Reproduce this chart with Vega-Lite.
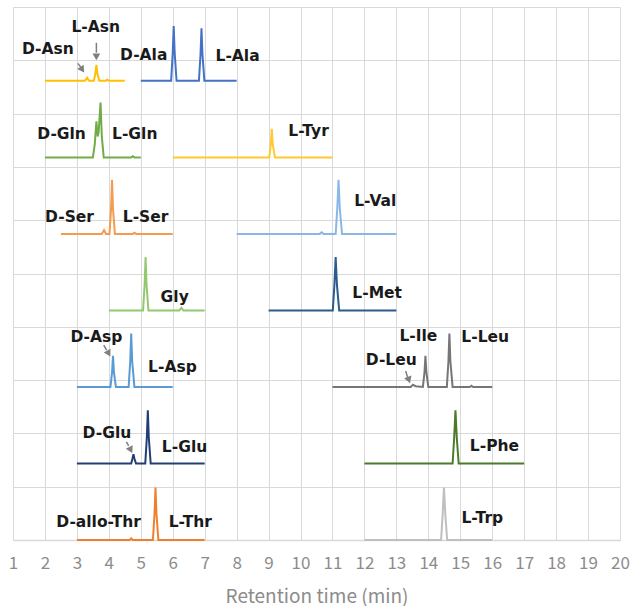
{
  "$schema": "https://vega.github.io/schema/vega-lite/v6.json",
  "width": 607,
  "height": 533,
  "autosize": {"type": "none"},
  "padding": {"left": 13, "top": 7, "right": 11, "bottom": 66},
  "background": "white",
  "config": {"view": {"stroke": null}},
  "datasets": {
    "traces": [
      {"s":"Asn","x":2.0,"y":6.03},{"s":"Asn","x":3.25,"y":6.03},{"s":"Asn","x":3.32,"y":6.07},{"s":"Asn","x":3.38,"y":6.03},{"s":"Asn","x":3.53,"y":6.03},{"s":"Asn","x":3.58,"y":6.13},{"s":"Asn","x":3.61,"y":6.24},{"s":"Asn","x":3.64,"y":6.13},{"s":"Asn","x":3.7,"y":6.03},{"s":"Asn","x":3.9,"y":6.03},{"s":"Asn","x":3.95,"y":6.045},{"s":"Asn","x":4.0,"y":6.03},{"s":"Asn","x":4.5,"y":6.03},
      {"s":"Ala","x":5.0,"y":6.03},{"s":"Ala","x":5.95,"y":6.03},{"s":"Ala","x":6.0,"y":6.4},{"s":"Ala","x":6.03,"y":6.75},{"s":"Ala","x":6.06,"y":6.4},{"s":"Ala","x":6.12,"y":6.03},{"s":"Ala","x":6.82,"y":6.03},{"s":"Ala","x":6.87,"y":6.38},{"s":"Ala","x":6.9,"y":6.72},{"s":"Ala","x":6.93,"y":6.38},{"s":"Ala","x":6.99,"y":6.03},{"s":"Ala","x":8.0,"y":6.03},
      {"s":"Gln","x":2.0,"y":5.025},{"s":"Gln","x":3.5,"y":5.025},{"s":"Gln","x":3.56,"y":5.2},{"s":"Gln","x":3.61,"y":5.5},{"s":"Gln","x":3.65,"y":5.3},{"s":"Gln","x":3.68,"y":5.35},{"s":"Gln","x":3.74,"y":5.745},{"s":"Gln","x":3.78,"y":5.3},{"s":"Gln","x":3.84,"y":5.025},{"s":"Gln","x":4.7,"y":5.025},{"s":"Gln","x":4.75,"y":5.04},{"s":"Gln","x":4.8,"y":5.025},{"s":"Gln","x":5.0,"y":5.025},
      {"s":"Tyr","x":6.0,"y":5.025},{"s":"Tyr","x":9.02,"y":5.025},{"s":"Tyr","x":9.07,"y":5.2},{"s":"Tyr","x":9.1,"y":5.4},{"s":"Tyr","x":9.13,"y":5.2},{"s":"Tyr","x":9.2,"y":5.025},{"s":"Tyr","x":11.0,"y":5.025},
      {"s":"Ser","x":2.5,"y":4.02},{"s":"Ser","x":3.78,"y":4.02},{"s":"Ser","x":3.85,"y":4.07},{"s":"Ser","x":3.91,"y":4.02},{"s":"Ser","x":4.02,"y":4.02},{"s":"Ser","x":4.07,"y":4.35},{"s":"Ser","x":4.1,"y":4.73},{"s":"Ser","x":4.13,"y":4.35},{"s":"Ser","x":4.19,"y":4.02},{"s":"Ser","x":4.75,"y":4.02},{"s":"Ser","x":4.8,"y":4.035},{"s":"Ser","x":4.85,"y":4.02},{"s":"Ser","x":6.0,"y":4.02},
      {"s":"Val","x":8.0,"y":4.02},{"s":"Val","x":10.6,"y":4.02},{"s":"Val","x":10.66,"y":4.04},{"s":"Val","x":10.72,"y":4.02},{"s":"Val","x":11.1,"y":4.02},{"s":"Val","x":11.15,"y":4.35},{"s":"Val","x":11.19,"y":4.73},{"s":"Val","x":11.23,"y":4.35},{"s":"Val","x":11.3,"y":4.02},{"s":"Val","x":13.0,"y":4.02},
      {"s":"Gly","x":4.0,"y":3.015},{"s":"Gly","x":5.07,"y":3.015},{"s":"Gly","x":5.12,"y":3.35},{"s":"Gly","x":5.15,"y":3.715},{"s":"Gly","x":5.18,"y":3.35},{"s":"Gly","x":5.24,"y":3.015},{"s":"Gly","x":6.2,"y":3.015},{"s":"Gly","x":6.27,"y":3.05},{"s":"Gly","x":6.33,"y":3.015},{"s":"Gly","x":7.0,"y":3.015},
      {"s":"Met","x":9.0,"y":3.015},{"s":"Met","x":11.01,"y":3.015},{"s":"Met","x":11.06,"y":3.35},{"s":"Met","x":11.1,"y":3.715},{"s":"Met","x":11.14,"y":3.35},{"s":"Met","x":11.21,"y":3.015},{"s":"Met","x":13.0,"y":3.015},
      {"s":"Asp","x":3.0,"y":2.01},{"s":"Asp","x":4.05,"y":2.01},{"s":"Asp","x":4.1,"y":2.2},{"s":"Asp","x":4.13,"y":2.42},{"s":"Asp","x":4.16,"y":2.2},{"s":"Asp","x":4.22,"y":2.01},{"s":"Asp","x":4.62,"y":2.01},{"s":"Asp","x":4.67,"y":2.35},{"s":"Asp","x":4.7,"y":2.71},{"s":"Asp","x":4.73,"y":2.35},{"s":"Asp","x":4.8,"y":2.01},{"s":"Asp","x":6.0,"y":2.01},
      {"s":"Leu","x":11.0,"y":2.01},{"s":"Leu","x":13.45,"y":2.01},{"s":"Leu","x":13.52,"y":2.04},{"s":"Leu","x":13.6,"y":2.02},{"s":"Leu","x":13.83,"y":2.01},{"s":"Leu","x":13.88,"y":2.2},{"s":"Leu","x":13.91,"y":2.42},{"s":"Leu","x":13.94,"y":2.2},{"s":"Leu","x":14.0,"y":2.01},{"s":"Leu","x":14.58,"y":2.01},{"s":"Leu","x":14.63,"y":2.35},{"s":"Leu","x":14.66,"y":2.71},{"s":"Leu","x":14.69,"y":2.35},{"s":"Leu","x":14.76,"y":2.01},{"s":"Leu","x":15.3,"y":2.01},{"s":"Leu","x":15.35,"y":2.025},{"s":"Leu","x":15.4,"y":2.01},{"s":"Leu","x":16.0,"y":2.01},
      {"s":"Glu","x":3.0,"y":1.005},{"s":"Glu","x":4.7,"y":1.005},{"s":"Glu","x":4.74,"y":1.07},{"s":"Glu","x":4.77,"y":1.125},{"s":"Glu","x":4.8,"y":1.07},{"s":"Glu","x":4.85,"y":1.005},{"s":"Glu","x":5.14,"y":1.005},{"s":"Glu","x":5.19,"y":1.35},{"s":"Glu","x":5.22,"y":1.705},{"s":"Glu","x":5.25,"y":1.35},{"s":"Glu","x":5.31,"y":1.005},{"s":"Glu","x":7.0,"y":1.005},
      {"s":"Phe","x":12.0,"y":1.005},{"s":"Phe","x":14.76,"y":1.005},{"s":"Phe","x":14.81,"y":1.35},{"s":"Phe","x":14.85,"y":1.705},{"s":"Phe","x":14.89,"y":1.35},{"s":"Phe","x":14.95,"y":1.005},{"s":"Phe","x":17.0,"y":1.005},
      {"s":"Thr","x":3.0,"y":0},{"s":"Thr","x":4.65,"y":0},{"s":"Thr","x":4.7,"y":0.02},{"s":"Thr","x":4.75,"y":0},{"s":"Thr","x":5.38,"y":0},{"s":"Thr","x":5.43,"y":0.35},{"s":"Thr","x":5.46,"y":0.69},{"s":"Thr","x":5.49,"y":0.35},{"s":"Thr","x":5.55,"y":0},{"s":"Thr","x":7.0,"y":0},
      {"s":"Trp","x":12.0,"y":0},{"s":"Trp","x":14.4,"y":0},{"s":"Trp","x":14.45,"y":0.35},{"s":"Trp","x":14.49,"y":0.69},{"s":"Trp","x":14.53,"y":0.35},{"s":"Trp","x":14.59,"y":0},{"s":"Trp","x":16.0,"y":0}
    ],
    "labels": [
      {"t":"D-Asn","x":2.09,"y":6.45},{"t":"L-Asn","x":3.59,"y":6.74},{"t":"D-Ala","x":5.09,"y":6.37},{"t":"L-Ala","x":8.03,"y":6.36},
      {"t":"D-Gln","x":2.52,"y":5.33},{"t":"L-Gln","x":4.81,"y":5.33},{"t":"L-Tyr","x":10.25,"y":5.37},
      {"t":"D-Ser","x":2.77,"y":4.24},{"t":"L-Ser","x":5.15,"y":4.24},{"t":"L-Val","x":12.34,"y":4.45},
      {"t":"Gly","x":6.06,"y":3.19},{"t":"L-Met","x":12.4,"y":3.24},
      {"t":"D-Asp","x":3.61,"y":2.66},{"t":"L-Asp","x":5.99,"y":2.27},{"t":"L-Ile","x":13.69,"y":2.68},{"t":"D-Leu","x":12.84,"y":2.36},{"t":"L-Leu","x":15.78,"y":2.66},
      {"t":"D-Glu","x":3.94,"y":1.41},{"t":"L-Glu","x":6.37,"y":1.225},{"t":"L-Phe","x":16.07,"y":1.23},
      {"t":"D-allo-Thr","x":3.68,"y":0.23},{"t":"L-Thr","x":6.55,"y":0.23},{"t":"L-Trp","x":15.69,"y":0.285}
    ],
    "arrows": [
      {"x":3.61,"y":6.53,"x2":3.61,"y2":6.4},
      {"x":3.03,"y":6.26,"x2":3.12,"y2":6.21},
      {"x":3.84,"y":2.56,"x2":3.93,"y2":2.495},
      {"x":4.55,"y":1.29,"x2":4.62,"y2":1.235},
      {"x":13.29,"y":2.22,"x2":13.35,"y2":2.14}
    ],
    "heads": [
      {"x":3.61,"y":6.36,"a":180},
      {"x":3.15,"y":6.19,"a":146},
      {"x":3.98,"y":2.46,"a":151},
      {"x":4.67,"y":1.195,"a":153},
      {"x":13.38,"y":2.115,"a":160}
    ]
  },
  "encoding": {
    "x": {
      "field": "x", "type": "quantitative",
      "scale": {"domain": [1, 20], "nice": false, "zero": false},
      "axis": {
        "title": "Retention time (min)",
        "values": [1,2,3,4,5,6,7,8,9,10,11,12,13,14,15,16,17,18,19,20],
        "format": "d",
        "grid": true, "gridColor": "#d9d9d9", "gridWidth": 1,
        "domain": true, "domainColor": "#d9d9d9", "domainWidth": 1.5,
        "ticks": false, "tickSize": 0,
        "labelFont": "Noto Sans CJK JP", "labelFontSize": 17, "labelColor": "#8c8c8c", "labelPadding": 15,
        "labelFlush": false, "labelOverlap": false,
        "titleFont": "Noto Sans CJK JP", "titleFontSize": 19, "titleFontWeight": "normal", "titleColor": "#8c8c8c", "titlePadding": 16
      }
    },
    "y": {
      "field": "y", "type": "quantitative",
      "scale": {"domain": [0, 7], "nice": false, "zero": false},
      "axis": {
        "title": null,
        "values": [0,0.7,1.4,2.1,2.8,3.5,4.2,4.9,5.6,6.3,7],
        "grid": true, "gridColor": "#d9d9d9", "gridWidth": 1,
        "domain": false, "ticks": false, "labels": false
      }
    }
  },
  "layer": [
    {
      "data": {"name": "traces"},
      "mark": {"type": "line", "strokeWidth": 2, "interpolate": "linear"},
      "encoding": {
        "color": {
          "field": "s", "type": "nominal", "legend": null,
          "scale": {
            "domain": ["Asn","Ala","Gln","Tyr","Ser","Val","Gly","Met","Asp","Leu","Glu","Phe","Thr","Trp"],
            "range": ["#FFC000","#4472C4","#70AD47","#FFC933","#F69A50","#8AB8E6","#92C96E","#2A5C8E","#5B9BD5","#767676","#223F73","#4B7A2B","#F08030","#BFBFBF"]
          }
        },
        "detail": {"field": "s", "type": "nominal"}
      }
    },
    {
      "data": {"name": "arrows"},
      "mark": {"type": "rule", "color": "#7f7f7f", "strokeWidth": 1.5},
      "encoding": {
        "x2": {"field": "x2"},
        "y2": {"field": "y2"}
      }
    },
    {
      "data": {"name": "heads"},
      "mark": {"type": "point", "shape": "triangle", "filled": true, "color": "#7f7f7f", "size": 60, "opacity": 1},
      "encoding": {
        "angle": {"field": "a", "type": "quantitative", "scale": null}
      }
    },
    {
      "data": {"name": "labels"},
      "mark": {"type": "text", "font": "DejaVu Sans", "fontWeight": "bold", "fontSize": 15.5, "color": "#1a1a1a", "align": "center", "baseline": "middle"},
      "encoding": {
        "text": {"field": "t", "type": "nominal"}
      }
    }
  ]
}
